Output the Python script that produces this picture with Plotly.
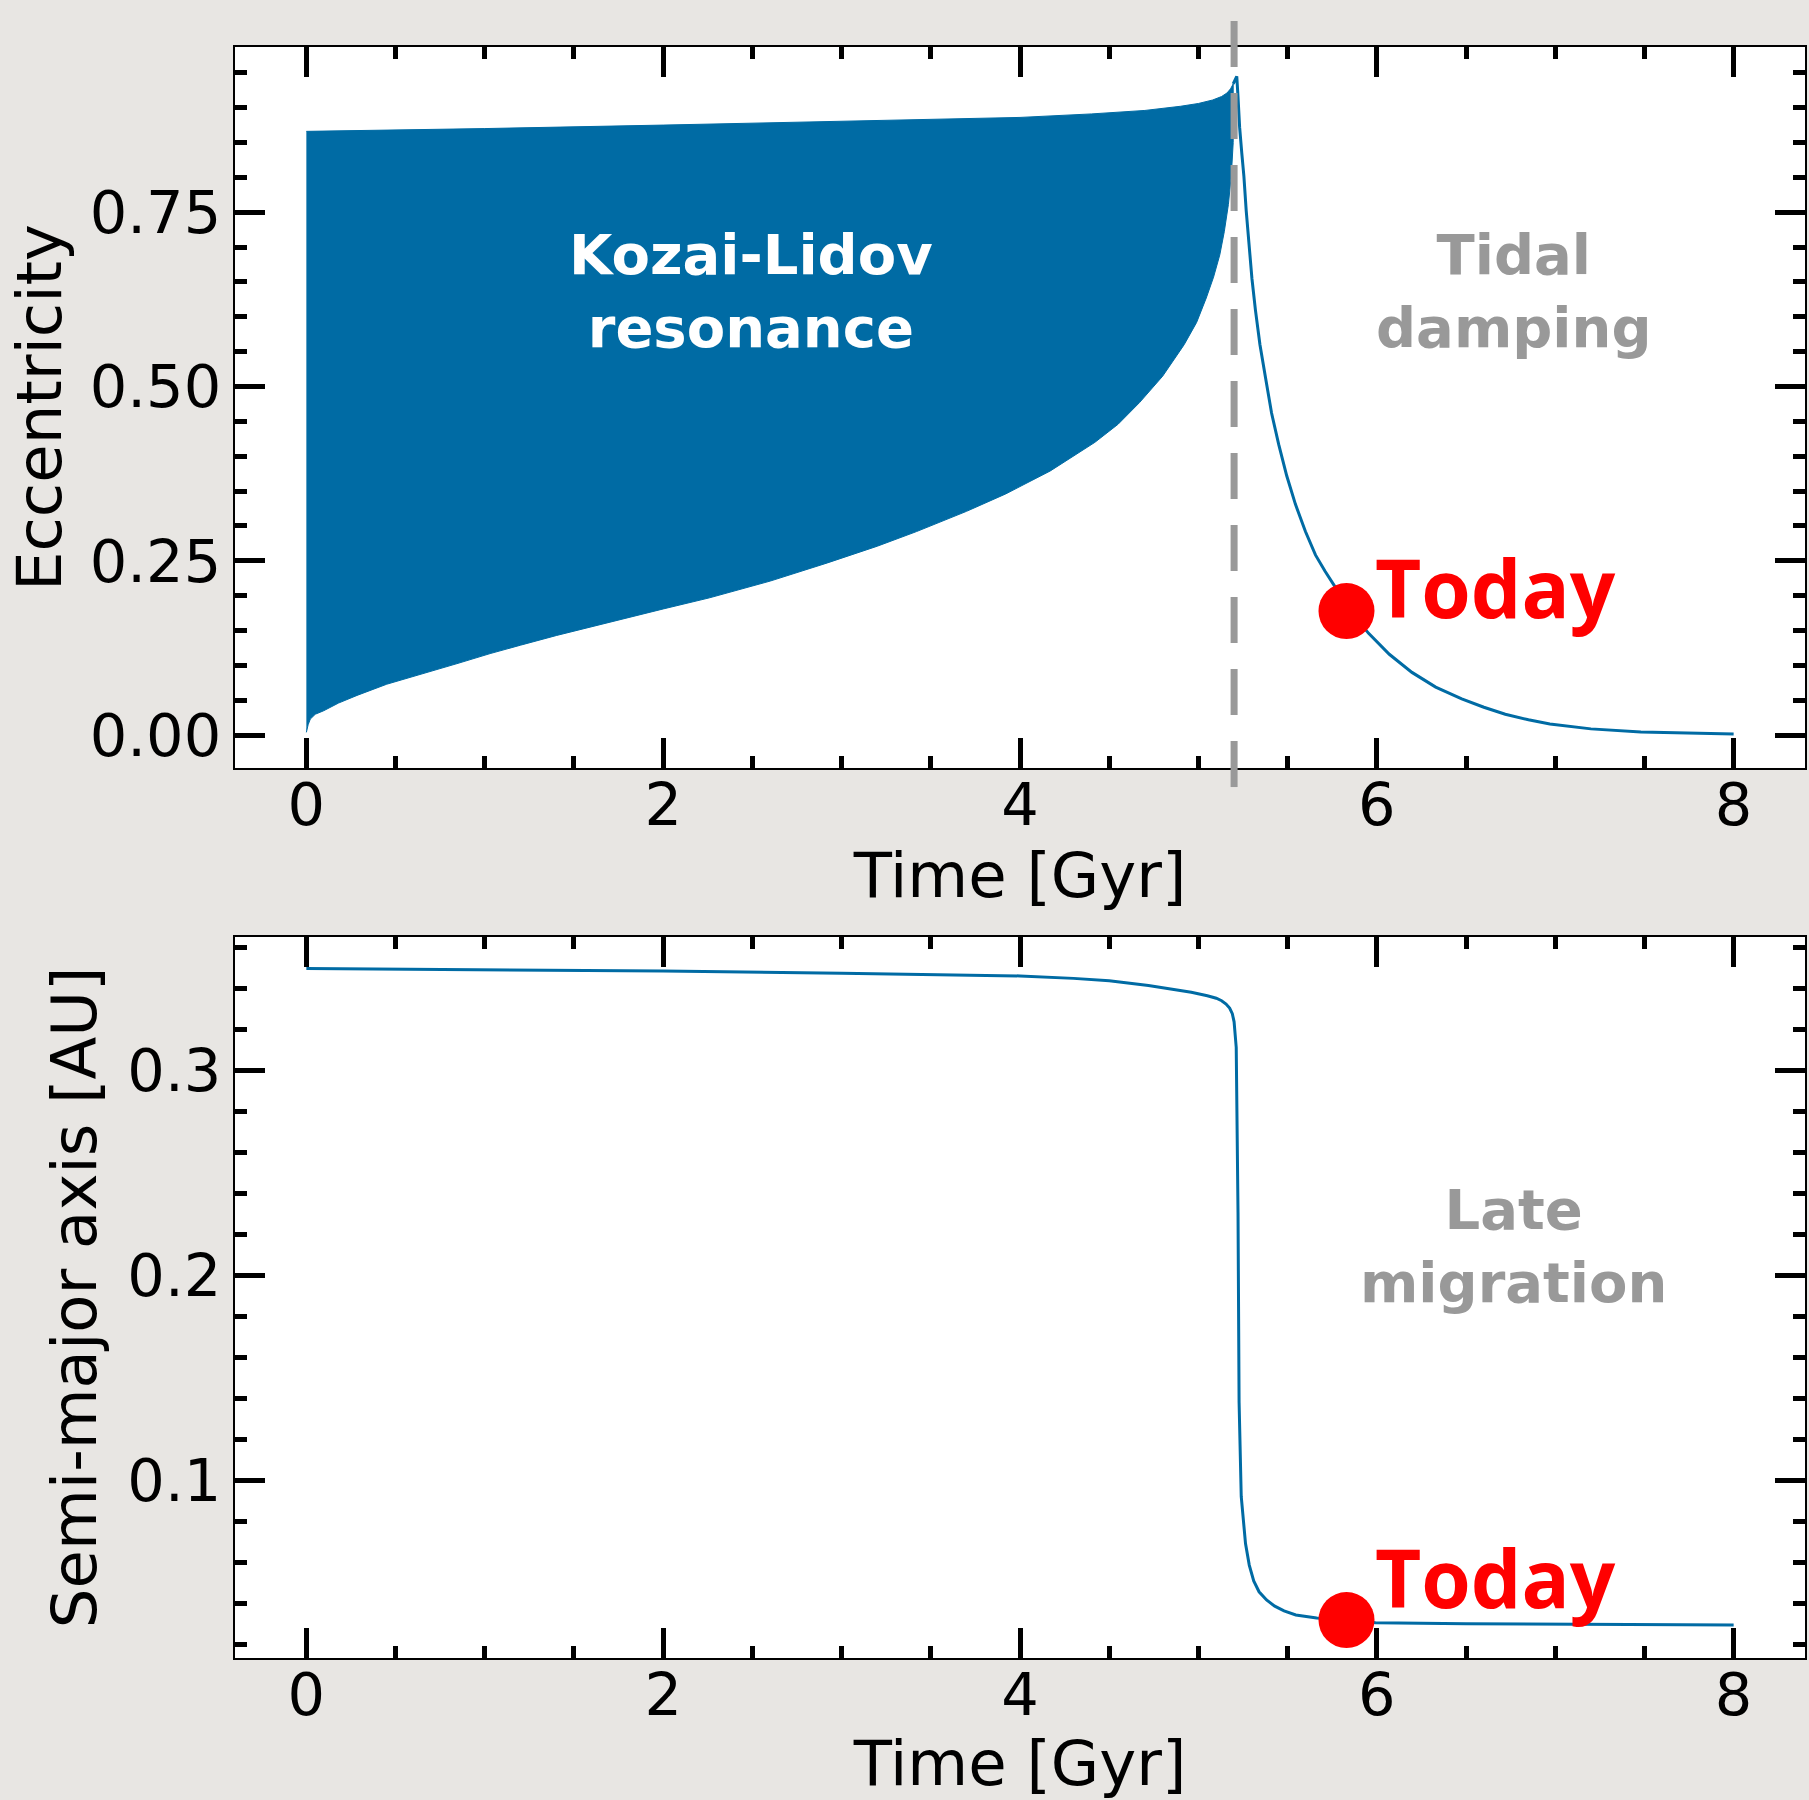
import plotly.graph_objects as go
from plotly.subplots import make_subplots

# ---------------- data ----------------
# Kozai-Lidov oscillation band: upper / lower envelopes of eccentricity
t_upper = [0.0, 0.3, 1.0, 2.0, 3.0, 4.0, 4.4, 4.7, 4.9, 5.0, 5.08, 5.13, 5.16, 5.18, 5.195]
e_upper = [0.866, 0.867, 0.870, 0.875, 0.880, 0.886, 0.891, 0.896, 0.902, 0.906, 0.911,
           0.916, 0.921, 0.927, 0.934]
t_lower = [0.0, 0.01, 0.022, 0.05, 0.097, 0.18, 0.284, 0.45, 0.657, 0.85, 1.03, 1.2, 1.403,
           1.6, 1.776, 2.0, 2.26, 2.6, 2.92, 3.2, 3.42, 3.7, 3.92, 4.17, 4.42, 4.55, 4.67,
           4.8, 4.92, 4.99, 5.044, 5.085, 5.12, 5.145, 5.168, 5.185, 5.195]
e_lower = [0.004, 0.015, 0.023, 0.030, 0.035, 0.046, 0.057, 0.073, 0.088, 0.103, 0.117, 0.129,
           0.143, 0.156, 0.167, 0.181, 0.197, 0.221, 0.247, 0.271, 0.292, 0.321, 0.346, 0.379,
           0.420, 0.446, 0.477, 0.515, 0.560, 0.592, 0.627, 0.657, 0.689, 0.722, 0.761, 0.805,
           0.850]

# Tidal damping of eccentricity
t_damp = [5.195, 5.205, 5.215, 5.222, 5.231, 5.243, 5.255, 5.268, 5.283, 5.30, 5.32, 5.345,
          5.376, 5.41, 5.45, 5.495, 5.544, 5.60, 5.656, 5.71, 5.768, 5.827, 5.89, 5.954, 6.07,
          6.197, 6.33, 6.476, 6.6, 6.72, 6.85, 6.97, 7.2, 7.48, 7.75, 8.0]
e_damp = [0.934, 0.940, 0.945, 0.915, 0.872, 0.835, 0.8015, 0.752, 0.705, 0.655, 0.609, 0.560,
          0.513, 0.462, 0.417, 0.372, 0.331, 0.292, 0.2585, 0.235, 0.212, 0.189, 0.166,
          0.146, 0.116, 0.090, 0.069, 0.052, 0.040, 0.030, 0.022, 0.016, 0.009, 0.0045,
          0.0025, 0.0015]

# Semi-major axis [AU]
t_a = [0.0, 1.0, 2.0, 3.0, 4.0, 4.3, 4.5, 4.72, 4.85, 4.96, 5.05, 5.1, 5.13, 5.155, 5.175,
       5.19, 5.2, 5.207, 5.212, 5.222, 5.228, 5.24, 5.252, 5.264, 5.285, 5.31, 5.34, 5.382,
       5.428, 5.48, 5.546, 5.663, 5.83, 5.993, 6.5, 7.0, 7.5, 8.0]
a_au = [0.3495, 0.349, 0.3483, 0.3472, 0.3459, 0.3447, 0.3435, 0.3412, 0.3396, 0.3379,
        0.3362, 0.3350, 0.3338, 0.3322, 0.3302, 0.3275, 0.3235, 0.318, 0.311, 0.2305, 0.138,
        0.092, 0.0806, 0.069, 0.0585, 0.0508, 0.0455, 0.0415, 0.0385, 0.0362, 0.0342,
        0.0327, 0.0317, 0.0304, 0.0299, 0.0296, 0.0294, 0.0293]

# "Today" marker
today_t = 5.83
today_e = 0.178
today_a = 0.0317

# transition time (dashed line)
t_transition = 5.2

x_ticks = [0, 2, 4, 6, 8]
e_ticks = [0.0, 0.25, 0.5, 0.75]
a_ticks = [0.1, 0.2, 0.3]

# ---------------- styling ----------------
BLUE = "#006BA4"
GREY = "#999999"
BG = "#e8e6e3"
TICK_FONT = dict(family="DejaVu Sans", size=59, color="black")
TITLE_FONT = dict(family="DejaVu Sans", size=62.5, color="black")

fig = make_subplots(rows=2, cols=1, vertical_spacing=0.105)

band_x = t_upper + t_lower[::-1]
band_y = e_upper + e_lower[::-1]
fig.add_trace(go.Scatter(x=band_x, y=band_y, fill="toself", fillcolor=BLUE, mode="lines",
                         line=dict(color=BLUE, width=1), hoverinfo="skip", showlegend=False),
              row=1, col=1)
fig.add_trace(go.Scatter(x=t_damp, y=e_damp, mode="lines", line=dict(color=BLUE, width=3),
                         showlegend=False), row=1, col=1)
fig.add_trace(go.Scatter(x=[today_t], y=[today_e], mode="markers",
                         marker=dict(color="red", size=56), cliponaxis=False,
                         showlegend=False), row=1, col=1)

fig.add_trace(go.Scatter(x=t_a, y=a_au, mode="lines", line=dict(color=BLUE, width=3),
                         showlegend=False), row=2, col=1)
fig.add_trace(go.Scatter(x=[today_t], y=[today_a], mode="markers",
                         marker=dict(color="red", size=56), cliponaxis=False,
                         showlegend=False), row=2, col=1)

common_axis = dict(showline=True, linecolor="black", linewidth=2, mirror="ticks",
                   ticks="inside", ticklen=30, tickwidth=5, tickcolor="black",
                   showgrid=False, zeroline=False, tickfont=TICK_FONT)

xaxis_cfg = dict(common_axis, range=[-0.4, 8.4], tickvals=x_ticks, ticklabelstandoff=-16,
                 minor=dict(dtick=0.5, tick0=0, ticks="inside", ticklen=12, tickwidth=5,
                            tickcolor="black", showgrid=False),
                 title=dict(text="Time [Gyr]", font=TITLE_FONT, standoff=6))

fig.update_xaxes(**xaxis_cfg, row=1, col=1)
fig.update_xaxes(**xaxis_cfg, row=2, col=1)

fig.update_yaxes(common_axis, range=[-0.047, 0.987], tickvals=e_ticks, tickformat=".2f",
                 minor=dict(dtick=0.05, tick0=0, ticks="inside", ticklen=12, tickwidth=5,
                            tickcolor="black", showgrid=False),
                 title=dict(text="Eccentricity", font=TITLE_FONT, standoff=8),
                 row=1, col=1)
fig.update_yaxes(common_axis, range=[0.0132, 0.365], tickvals=a_ticks, tickformat=".1f",
                 minor=dict(dtick=0.02, tick0=0, ticks="inside", ticklen=12, tickwidth=5,
                            tickcolor="black", showgrid=False),
                 title=dict(text="Semi-major axis [AU]", font=TITLE_FONT, standoff=10),
                 row=2, col=1)

fig.update_layout(
    width=1809, height=1800,
    margin=dict(l=235, r=2, t=47, b=142),
    paper_bgcolor=BG, plot_bgcolor="white",
    showlegend=False,
    xaxis=dict(domain=[0, 1]), yaxis=dict(domain=[0.5525, 1.0]),
    xaxis2=dict(domain=[0, 1]), yaxis2=dict(domain=[0.0, 0.4477]),
)

# dashed transition line (extends beyond the top panel)
fig.add_shape(type="line", xref="x", yref="y domain", x0=t_transition, x1=t_transition,
              y0=1.036, y1=-0.028, line=dict(color=GREY, width=7, dash="46px,26px"),
              layer="above")

LABEL_FONT = dict(family="DejaVu Sans", size=56, weight="bold")
fig.add_annotation(x=2.49, y=0.637, xref="x", yref="y", text="Kozai-Lidov<br>resonance",
                   showarrow=False, font=dict(LABEL_FONT, color="white"))
fig.add_annotation(x=6.765, y=0.637, xref="x", yref="y", text="Tidal<br>damping",
                   showarrow=False, font=dict(LABEL_FONT, color=GREY))
fig.add_annotation(x=6.765, y=0.214, xref="x2", yref="y2", text="Late<br>migration",
                   showarrow=False, font=dict(LABEL_FONT, color=GREY))

TODAY_FONT = dict(family="Open Sans", size=80, weight="bold", color="red")
fig.add_annotation(x=5.98, y=0.213, xref="x", yref="y", text="Today", showarrow=False,
                   xanchor="left", yanchor="middle", font=TODAY_FONT)
fig.add_annotation(x=5.98, y=0.053, xref="x2", yref="y2", text="Today", showarrow=False,
                   xanchor="left", yanchor="middle", font=TODAY_FONT)

fig.write_html(
    "out.html",
    config={"displayModeBar": False},
    post_script="document.body.style.margin='0';document.body.style.background='%s';" % BG,
)
